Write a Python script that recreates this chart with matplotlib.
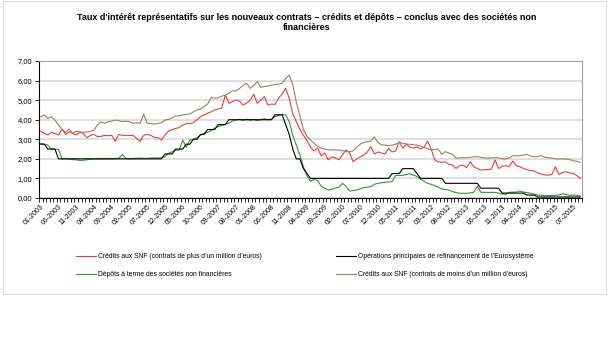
import matplotlib
matplotlib.use('Agg')
import matplotlib.pyplot as plt
import numpy as np

# monthly, 01-2003 .. 09-2015
months = ['%02d-%d' % (m, y) for y in range(2003, 2016) for m in range(1, 13)][:153]

# Crédits aux SNF (contrats de plus d'un million d'euros)
credits_big = [
    3.42, 3.30, 3.22, 3.35, 3.30, 3.22, 3.52, 3.25, 3.38, 3.30, 3.22, 3.35,
    3.30, 3.08, 3.20, 3.25, 3.13, 3.15, 3.20, 3.18, 3.20, 2.90, 3.25, 3.20,
    3.20, 3.20, 3.20, 3.05, 2.90, 3.20, 3.25, 3.20, 3.10, 3.08, 2.96, 3.22,
    3.42, 3.50, 3.55, 3.60, 3.73, 3.80, 3.80, 3.85, 4.00, 4.16, 4.25, 4.33,
    4.40, 4.50, 4.55, 4.60, 5.26, 4.84, 4.92, 5.00, 4.95, 4.75, 4.85, 5.00,
    5.30, 4.84, 5.00, 5.18, 4.75, 4.80, 4.78, 5.10, 5.30, 5.60, 5.10, 4.30,
    3.90, 3.50, 3.20, 2.95, 2.60, 2.40, 2.55, 2.15, 2.30, 1.95, 2.10, 2.05,
    1.95, 2.20, 2.46, 2.30, 1.85, 2.00, 2.10, 2.20, 2.35, 2.62, 2.25, 2.35,
    2.30, 2.25, 2.54, 2.35, 2.40, 2.88, 2.55, 2.74, 2.60, 2.55, 2.62, 2.50,
    2.60, 2.91, 2.50, 1.95, 1.85, 1.82, 1.85, 1.72, 1.68, 1.51, 1.65, 1.68,
    1.55, 1.85, 1.60, 1.50, 1.43, 1.45, 1.45, 1.48, 1.94, 1.51, 1.62, 1.65,
    1.60, 1.89, 1.65, 1.60, 1.51, 1.45, 1.40, 1.38, 1.28, 1.22, 1.18, 1.17,
    1.20, 1.60, 1.20, 1.30, 1.34, 1.28, 1.26, 1.15, 1.00,
]

# Opérations principales de refinancement de l'Eurosystème
refi = [
    2.75, 2.75, 2.50, 2.50, 2.50, 2.00, 2.00, 2.00, 2.00, 2.00, 2.00, 2.00,
    2.00, 2.00, 2.00, 2.00, 2.00, 2.00, 2.00, 2.00, 2.00, 2.00, 2.00, 2.00,
    2.00, 2.00, 2.00, 2.00, 2.00, 2.00, 2.00, 2.00, 2.00, 2.00, 2.00, 2.25,
    2.25, 2.25, 2.50, 2.50, 2.50, 2.75, 2.75, 3.00, 3.00, 3.25, 3.25, 3.50,
    3.50, 3.50, 3.75, 3.75, 3.75, 4.00, 4.00, 4.00, 4.00, 4.00, 4.00, 4.00,
    4.00, 4.00, 4.00, 4.00, 4.00, 4.00, 4.25, 4.25, 4.25, 3.75, 3.25, 2.50,
    2.00, 2.00, 1.50, 1.25, 1.00, 1.00, 1.00, 1.00, 1.00, 1.00, 1.00, 1.00,
    1.00, 1.00, 1.00, 1.00, 1.00, 1.00, 1.00, 1.00, 1.00, 1.00, 1.00, 1.00,
    1.00, 1.00, 1.00, 1.25, 1.25, 1.25, 1.50, 1.50, 1.50, 1.50, 1.25, 1.00,
    1.00, 1.00, 1.00, 1.00, 1.00, 1.00, 0.75, 0.75, 0.75, 0.75, 0.75, 0.75,
    0.75, 0.75, 0.75, 0.75, 0.50, 0.50, 0.50, 0.50, 0.50, 0.50, 0.25, 0.25,
    0.25, 0.25, 0.25, 0.25, 0.25, 0.15, 0.15, 0.15, 0.05, 0.05, 0.05, 0.05,
    0.05, 0.05, 0.05, 0.05, 0.05, 0.05, 0.05, 0.05, 0.05,
]

# Dépôts à terme des sociétés non financières
depots = [
    2.79, 2.75, 2.70, 2.50, 2.50, 2.48, 2.00, 2.02, 1.98, 1.96, 1.95, 1.92,
    1.93, 1.95, 1.98, 2.00, 2.00, 2.01, 2.00, 2.02, 2.00, 2.02, 2.03, 2.23,
    2.02, 2.00, 2.02, 2.03, 2.04, 2.02, 2.03, 2.04, 2.05, 2.04, 2.06, 2.10,
    2.28, 2.36, 2.45, 2.45, 2.96, 2.60, 2.96, 3.00, 3.08, 3.20, 3.30, 3.35,
    3.45, 3.56, 3.65, 3.70, 3.78, 3.82, 3.93, 3.98, 4.02, 3.96, 4.03, 3.97,
    4.02, 3.95, 4.00, 4.05, 4.00, 4.02, 4.16, 4.22, 4.27, 4.25, 3.90, 3.20,
    2.70, 2.20, 1.60, 1.15, 0.85, 0.95, 0.90, 0.60, 0.50, 0.41, 0.45, 0.50,
    0.55, 0.75, 0.60, 0.35, 0.38, 0.41, 0.47, 0.53, 0.55, 0.58, 0.70, 0.75,
    0.78, 0.80, 0.82, 0.84, 1.15, 1.15, 1.16, 1.20, 1.24, 1.17, 1.10, 0.95,
    0.85, 0.75, 0.70, 0.63, 0.55, 0.46, 0.43, 0.41, 0.33, 0.28, 0.24, 0.24,
    0.24, 0.26, 0.29, 0.60, 0.29, 0.29, 0.28, 0.29, 0.28, 0.25, 0.20, 0.19,
    0.29, 0.30, 0.30, 0.36, 0.30, 0.28, 0.24, 0.20, 0.15, 0.14, 0.12, 0.12,
    0.13, 0.14, 0.15, 0.22, 0.18, 0.13, 0.15, 0.14, 0.10,
]

# Crédits aux SNF (contrats de moins d'un million d'euros)
credits_small = [
    4.15, 4.24, 4.07, 4.15, 3.98, 3.73, 3.50, 3.35, 3.52, 3.30, 3.42, 3.38,
    3.35, 3.38, 3.40, 3.47, 3.75, 3.88, 3.82, 3.90, 3.93, 3.98, 3.95, 3.90,
    3.92, 3.90, 3.82, 3.84, 3.82, 4.28, 3.82, 3.80, 3.78, 3.80, 3.85, 3.98,
    4.02, 4.10, 4.19, 4.20, 4.25, 4.27, 4.30, 4.40, 4.50, 4.55, 4.67, 4.80,
    5.13, 5.10, 5.12, 5.20, 5.26, 5.35, 5.47, 5.47, 5.60, 5.75, 5.86, 5.60,
    5.75, 5.95, 5.65, 5.70, 5.72, 5.77, 5.80, 5.82, 5.86, 6.10, 6.28, 5.80,
    4.90, 4.20, 3.50, 3.15, 2.96, 2.80, 2.65, 2.55, 2.50, 2.46, 2.46, 2.45,
    2.45, 2.42, 2.37, 2.37, 2.40, 2.60, 2.75, 2.84, 2.88, 2.90, 3.13, 2.84,
    2.72, 2.70, 2.67, 2.70, 2.75, 2.84, 2.80, 2.76, 2.74, 2.72, 2.71, 2.65,
    2.57, 2.52, 2.46, 2.48, 2.50, 2.23, 2.37, 2.30, 2.23, 2.03, 2.05, 2.06,
    2.06, 2.08, 2.10, 2.11, 2.08, 2.05, 2.03, 2.05, 2.06, 2.05, 2.00, 1.99,
    2.05, 2.16, 2.15, 2.16, 2.20, 2.23, 2.15, 2.11, 2.12, 2.16, 2.08, 2.06,
    2.04, 2.00, 1.99, 2.00, 1.99, 1.97, 1.90, 1.88, 1.82,
]

labels = ["Crédits aux SNF (contrats de plus d’un million d’euros)",
          "Dépôts à terme des sociétés non financières",
          "Opérations principales de refinancement de l’Eurosystème",
          "Crédits aux SNF (contrats de moins d’un million d’euros)"]

plt.rcParams['font.family'] = ['Liberation Sans', 'DejaVu Sans']

fig = plt.figure(figsize=(6.09, 3.63), dpi=100)
ax = fig.add_axes([39/609, 1-198/363, (582-39)/609, (198-61)/363])

x = np.arange(len(months))
l1, = ax.plot(x, credits_big, color='#ee3b3b', lw=0.8)
l2, = ax.plot(x, depots, color='#2e9a2e', lw=0.8)
l3, = ax.plot(x, refi, color='#000000', lw=0.8)
l4, = ax.plot(x, credits_small, color='#a67c5b', lw=0.8)

ax.set_xlim(-0.5, len(months)-0.5)
ax.set_ylim(0, 7)
yt = np.arange(0, 8, 1)
ax.set_yticks(yt)
ax.set_yticklabels([('%.2f' % v).replace('.', ',') for v in yt], fontsize=5.5)
ax.yaxis.grid(True, color='#d9d9d9', lw=1.2)
ax.set_axisbelow(True)

ax.set_xticks(x[::5])
ax.set_xticklabels(months[::5], rotation=45, ha='right', rotation_mode='anchor',
                   fontsize=5)
ax.set_xticks(np.arange(-0.5, len(months), 1), minor=True)
ax.tick_params(axis='x', which='major', length=0, pad=4)
ax.tick_params(axis='x', which='minor', length=3, width=0.6, direction='out')
ax.tick_params(axis='y', length=3, width=0.6, pad=2)

ax.spines['left'].set_color('black')
ax.spines['bottom'].set_color('black')
ax.spines['left'].set_linewidth(0.8)
ax.spines['bottom'].set_linewidth(0.8)
ax.spines['top'].set_color('#a0a0a0')
ax.spines['right'].set_color('#a0a0a0')

fig.text(0.503, 1-22.5/363,
         "Taux d'intérêt représentatifs sur les nouveaux contrats – crédits et dépôts – conclus avec des sociétés non\nfinancières",
         ha='center', va='center', fontsize=6.5, fontweight='bold', linespacing=1.15)

fig.legend([l1, l2, l3, l4], labels, ncol=2, loc='upper left',
           bbox_to_anchor=(70/609, 1-247/363), frameon=False,
           prop={'size': 4.9}, handlelength=2.9,
           handletextpad=0.3, columnspacing=10.9, labelspacing=1.6)

# chart area border
fig.patches.append(plt.Rectangle((3/609, 1-294/363), 603/609, 293/363,
                                 transform=fig.transFigure, fill=False,
                                 ec='#d9d9d9', lw=0.8))

fig.savefig('out.png', dpi=100)
